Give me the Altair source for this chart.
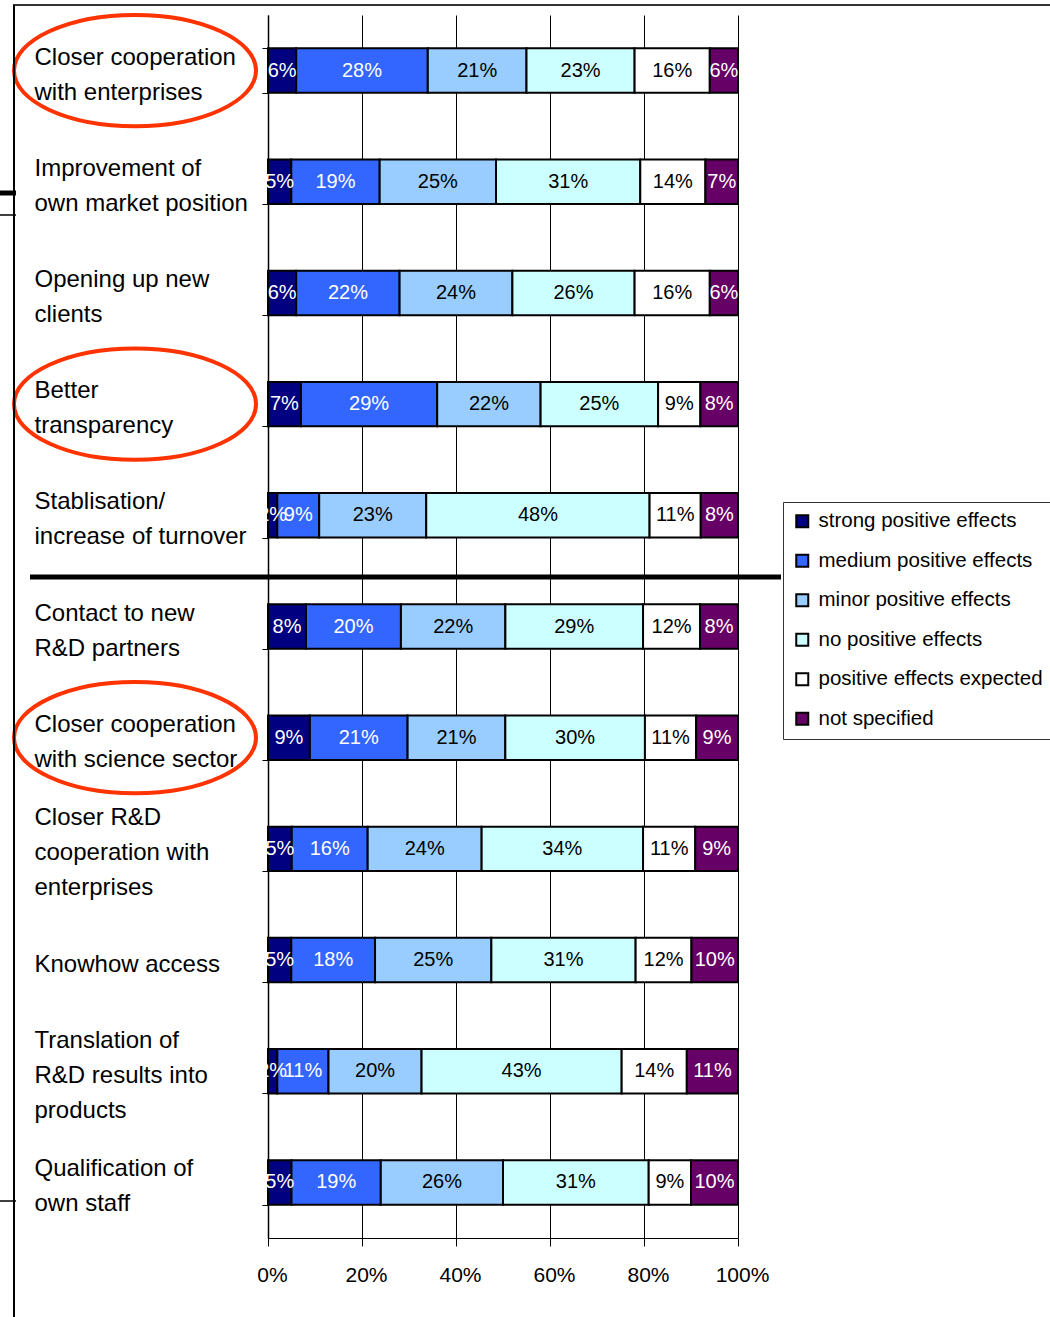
import altair as alt
import pandas as pd

categories = [
    "Closer cooperation\nwith enterprises",
    "Improvement of\nown market position",
    "Opening up new\nclients",
    "Better\ntransparency",
    "Stablisation/\nincrease of turnover",
    "Contact to new\nR&D partners",
    "Closer cooperation\nwith science sector",
    "Closer R&D\ncooperation with\nenterprises",
    "Knowhow access",
    "Translation of\nR&D results into\nproducts",
    "Qualification of\nown staff",
]
series = [
    "strong positive effects",
    "medium positive effects",
    "minor positive effects",
    "no positive effects",
    "positive effects expected",
    "not specified",
]
strong = [6, 5, 6, 7, 2, 8, 9, 5, 5, 2, 5]
medium = [28, 19, 22, 29, 9, 20, 21, 16, 18, 11, 19]
minor = [21, 25, 24, 22, 23, 22, 21, 24, 25, 20, 26]
no_pos = [23, 31, 26, 25, 48, 29, 30, 34, 31, 43, 31]
expected = [16, 14, 16, 9, 11, 12, 11, 11, 12, 14, 9]
not_spec = [6, 7, 6, 8, 8, 8, 9, 9, 10, 11, 10]
colors = ["#000080", "#3366FF", "#99CCFF", "#CCFFFF", "#FFFFFF", "#660066"]
text_colors = ["white", "white", "black", "black", "black", "white"]
circled = [categories[0], categories[3], categories[6]]

FONT = "Liberation Sans, Arial, sans-serif"

all_vals = [strong, medium, minor, no_pos, expected, not_spec]
rows = []
for si, (s, vals) in enumerate(zip(series, all_vals)):
    for ci, c in enumerate(categories):
        rows.append({"cat": c, "series": s, "idx": si, "value": vals[ci],
                     "label": f"{vals[ci]}%", "tc": text_colors[si]})
df = pd.DataFrame(rows)

W, H = 470, 1223
L, T = 268, 15
LH = 35

label_offset = {
    "condition": [
        {"test": "length(split(datum.value, '\\n')) == 3", "value": 4 - LH},
        {"test": "length(split(datum.value, '\\n')) == 2", "value": 4 - LH / 2},
    ],
    "value": 4,
}

base = alt.Chart(df).transform_stack(
    stack="value", groupby=["cat"], as_=["v0", "v1"], offset="normalize",
    sort=[alt.SortField("idx", order="ascending")],
).transform_calculate(mid="(datum.v0 + datum.v1) / 2")

yenc = alt.Y(
    "cat:N", sort=categories, title=None,
    scale=alt.Scale(paddingInner=0.6, paddingOuter=0.3),
    axis=alt.Axis(
        labelExpr="split(datum.label, '\\n')", labelAlign="left", labelPadding=228,
        labelLimit=400, labelFont=FONT, labelFontSize=24, labelLineHeight=LH,
        labelBaseline="middle", labelOffset=label_offset, labelColor="black",
        labelOverlap=False,
        tickBand="extent", tickSize=6, tickColor="black", domainColor="black",
        domainWidth=1.5, grid=False,
    ),
)

bars = base.mark_bar(stroke="black", strokeWidth=2).encode(
    y=yenc,
    x=alt.X("v0:Q", title=None, scale=alt.Scale(domain=[0, 1], nice=False),
            axis=alt.Axis(values=[0, 0.2, 0.4, 0.6, 0.8, 1.0], format=".0%",
                          labelFont=FONT, labelFontSize=21, labelColor="black",
                          labelFlush=False,
                          labelPadding=18, labelOffset=4, tickSize=8, tickColor="black",
                          domainColor="black", grid=True, gridColor="black",
                          gridWidth=1, gridOpacity=1)),
    x2="v1:Q",
    color=alt.Color("series:N", sort=series,
                    scale=alt.Scale(domain=series, range=colors),
                    legend=alt.Legend(
                        title=None, orient="none", legendX=515, legendY=487,
                        direction="vertical", symbolType="square", symbolSize=144,
                        symbolStrokeColor="black", symbolStrokeWidth=2,
                        labelFont=FONT, labelFontSize=20.5, labelColor="black",
                        labelOffset=6, rowPadding=18.5, padding=9,
                        strokeColor="#333333", fillColor="white", labelLimit=400)),
    order=alt.Order("idx:Q"),
)

texts = base.mark_text(font=FONT, fontSize=20, baseline="middle", align="center").encode(
    y=alt.Y("cat:N", sort=categories),
    x=alt.X("mid:Q"),
    text="label:N",
    color=alt.Color("tc:N", scale=None),
)

ell_df = pd.DataFrame({"cat": circled})
ellipse_path = "M -1 0 A 1 0.46 0 1 1 1 0 A 1 0.46 0 1 1 -1 0 Z"
ellipses = alt.Chart(ell_df).mark_point(
    shape=ellipse_path, size=242 * 242, filled=False, stroke="#FF3300",
    strokeWidth=4, opacity=1,
).encode(
    y=alt.Y("cat:N", sort=categories),
    x=alt.value(135 - L),
)

one = pd.DataFrame({"a": [0]})
sep = alt.Chart(one).mark_rule(color="black", strokeWidth=5).encode(
    x=alt.value(30 - L), x2=alt.value(781 - L), y=alt.value(577 - T))
top_line = alt.Chart(one).mark_rule(color="#333333", strokeWidth=2).encode(
    x=alt.value(13 - L), x2=alt.value(1050 - L), y=alt.value(5 - T))
left_line = alt.Chart(one).mark_rule(color="black", strokeWidth=2).encode(
    x=alt.value(14 - L), y=alt.value(5 - T), y2=alt.value(1317 - T))
mark1 = alt.Chart(one).mark_rule(color="black", strokeWidth=5).encode(
    x=alt.value(0 - L), x2=alt.value(16 - L), y=alt.value(193 - T))
mark2 = alt.Chart(one).mark_rule(color="black", strokeWidth=1.5).encode(
    x=alt.value(0 - L), x2=alt.value(16 - L), y=alt.value(215 - T))
mark3 = alt.Chart(one).mark_rule(color="black", strokeWidth=1.5).encode(
    x=alt.value(0 - L), x2=alt.value(16 - L), y=alt.value(1201 - T))

chart = alt.layer(bars, texts, ellipses, sep, top_line, left_line, mark1, mark2, mark3).properties(
    width=W, height=H,
    autosize=alt.AutoSizeParams(type="none"),
    padding={"left": L, "top": T, "right": 1050 - L - W, "bottom": 1317 - T - H},
    background="white",
).configure_view(stroke=None).configure_axis(labelFont=FONT)

chart.save("out.html", embed_options={"renderer": "svg", "actions": False})
